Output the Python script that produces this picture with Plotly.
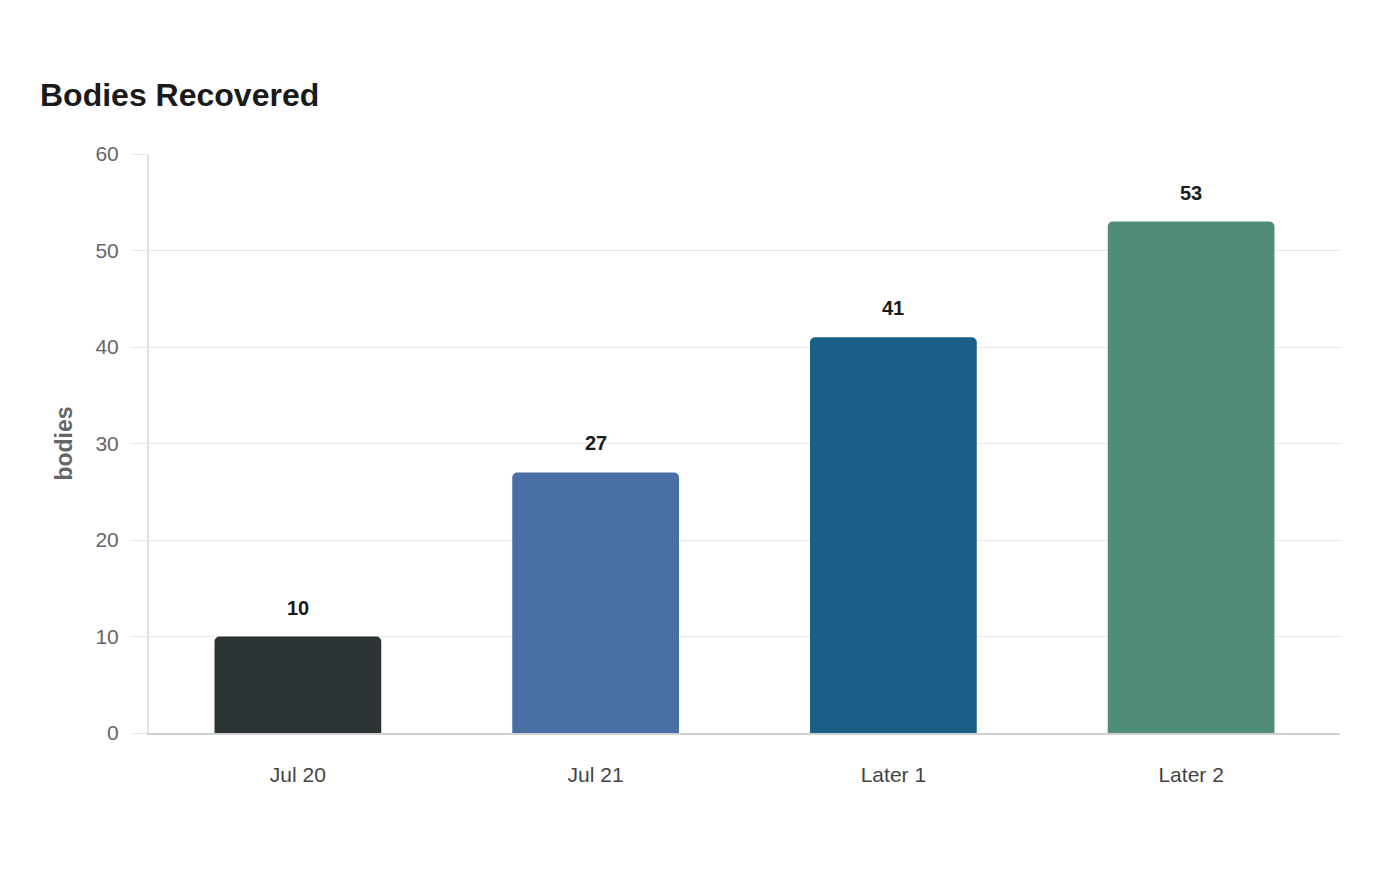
import plotly.graph_objects as go

categories = ["Jul 20", "Jul 21", "Later 1", "Later 2"]
bodies = [10, 27, 41, 53]
bar_colors = ["#2d3436", "#4a6fa5", "#1a5f87", "#4f8c7a"]
y_ticks = [0, 10, 20, 30, 40, 50, 60]

FONT = "Liberation Sans, Arial, sans-serif"

fig = go.Figure()
fig.add_trace(go.Bar(
    x=categories,
    y=bodies,
    marker=dict(color=bar_colors, cornerradius=5, line=dict(width=0)),
    hoverinfo="x+y",
))

for c, v in zip(categories, bodies):
    fig.add_annotation(
        x=c, y=v, text=f"<b>{v}</b>", showarrow=False,
        yanchor="bottom", yshift=16,
        font=dict(family=FONT, size=20, color="#1a1a1a"),
    )

fig.update_layout(
    width=1400, height=880,
    margin=dict(l=149, r=60, t=154, b=147),
    paper_bgcolor="white", plot_bgcolor="white",
    bargap=0.44,
    showlegend=False,
    font=dict(family=FONT),
    title=dict(
        text="<b>Bodies Recovered</b>",
        font=dict(family=FONT, size=32, color="#1a1a1a"),
        xref="container", yref="container",
        x=40/1400, xanchor="left",
        y=1-95/880, yanchor="middle",
    ),
)

fig.update_yaxes(
    range=[0, 60], tickvals=y_ticks,
    showgrid=True, gridcolor="#e8e8e8", gridwidth=1,
    ticks="outside", ticklen=16, tickcolor="#e8e8e8", tickwidth=1,
    ticklabelstandoff=8,
    showline=True, linecolor="#e2e2e2", linewidth=2,
    zeroline=False,
    tickfont=dict(family=FONT, size=21, color="#666666"),
    title=dict(text="<b>bodies</b>", font=dict(family=FONT, size=23, color="#666666"), standoff=16),
)
fig.update_xaxes(
    showgrid=False,
    showline=True, linecolor="#d0d0d0", linewidth=2,
    ticks="outside", ticklen=22, tickcolor="rgba(0,0,0,0)",
    tickfont=dict(family=FONT, size=21, color="#444444"),
)

fig.write_html("out.html")
